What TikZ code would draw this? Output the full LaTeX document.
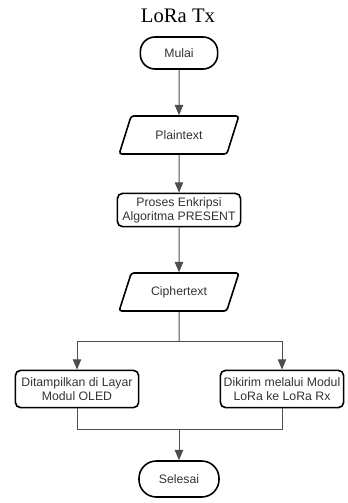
\documentclass[tikz,border=0pt]{standalone}
\usepackage{fontspec}
\setmainfont{Liberation Serif}
\newfontfamily\boxfont{Liberation Sans}
\usepackage{tikz}
\usetikzlibrary{shapes,arrows}

\definecolor{linegray}{HTML}{4D4D4D}
\definecolor{textgray}{HTML}{333333}

\tikzset{
	base/.style={draw=black, line width=1.2pt, text=textgray, align=center, inner sep=1pt,
		font=\boxfont\fontsize{9.2}{10.5}\selectfont},
	terminal/.style={base, rectangle, rounded corners=11pt, minimum width=58pt, minimum height=24pt},
	io/.style={base, trapezium, trapezium left angle=62, trapezium right angle=118,
		trapezium stretches=true, minimum width=90pt, minimum height=28.5pt, rounded corners=2pt},
	process/.style={base, rectangle, rounded corners=4pt, minimum width=92.5pt, minimum height=28pt},
	flow/.style={draw=linegray, line width=0.75pt},
	arrow/.style={flow, -triangle 45}
}

\begin{document}
\begin{tikzpicture}[x=0.75pt, y=-0.75pt]
	\useasboundingbox (0,0) rectangle (347,503);
	
	\node (title) at (178,16) {\fontsize{15.5}{18}\selectfont LoRa Tx};
	
	\node[terminal] (mulai) at (179,53) {Mulai};
	\node[io] (plain) at (179,135) {Plaintext};
	\node[process, minimum height=25pt] (enkripsi) at (179,210) {Proses Enkripsi\\Algoritma PRESENT};
	\node[io] (cipher) at (179,292) {Ciphertext};
	
	\node[process] (oled) at (77,389) {Ditampilkan di Layar\\Modul OLED};
	\node[process] (kirim) at (282,389) {Dikirim melalui Modul\\LoRa ke LoRa Rx};
	
	\node[terminal, minimum width=60pt, minimum height=27pt, rounded corners=13pt] (selesai) at (179,479) {Selesai};
	
	\coordinate (split) at (179,341);
	\coordinate (join) at (179,429);
	
	\draw[arrow] (mulai) -- (plain);
	\draw[arrow] (plain) -- (enkripsi);
	\draw[arrow] (enkripsi) -- (cipher);
	
	\draw[flow] (cipher.south) -- (split);
	\draw[arrow] (split) -| (oled.north);
	\draw[arrow] (split) -| (kirim.north);
	
	\draw[flow] (oled.south) |- (join);
	\draw[flow] (kirim.south) |- (join);
	\draw[arrow] (join) -- (selesai.north);
\end{tikzpicture}
\end{document}
